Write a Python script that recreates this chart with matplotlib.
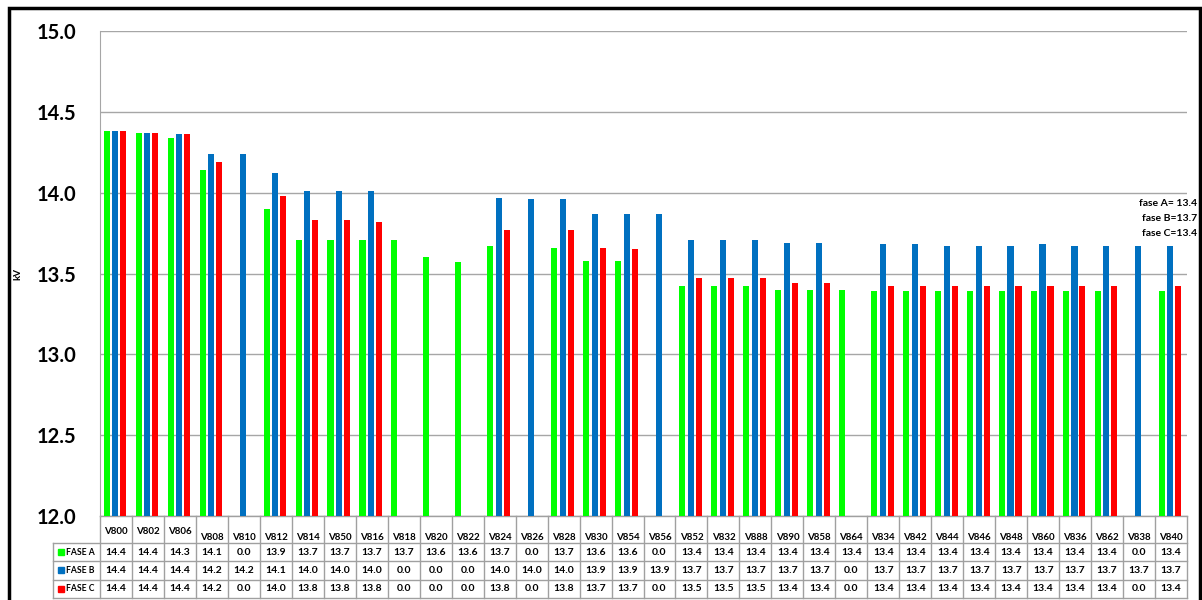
import numpy as np
import matplotlib
matplotlib.use('Agg')
import matplotlib.pyplot as plt
from matplotlib.patches import Rectangle
from matplotlib.transforms import blended_transform_factory

plt.rcParams['font.family'] = ['Lato', 'DejaVu Sans']

nodes = ['V800', 'V802', 'V806', 'V808', 'V810', 'V812', 'V814', 'V850', 'V816', 'V818',
         'V820', 'V822', 'V824', 'V826', 'V828', 'V830', 'V854', 'V856', 'V852', 'V832',
         'V888', 'V890', 'V858', 'V864', 'V834', 'V842', 'V844', 'V846', 'V848', 'V860',
         'V836', 'V862', 'V838', 'V840']
fase_a = [14.38, 14.37, 14.34, 14.14, 0.0, 13.90, 13.71, 13.71, 13.71, 13.71,
          13.60, 13.57, 13.67, 0.0, 13.66, 13.58, 13.58, 0.0, 13.42, 13.42,
          13.42, 13.40, 13.40, 13.40, 13.39, 13.39, 13.39, 13.39, 13.39, 13.39,
          13.39, 13.39, 0.0, 13.39]
fase_b = [14.38, 14.37, 14.36, 14.24, 14.24, 14.12, 14.01, 14.01, 14.01, 0.0,
          0.0, 0.0, 13.97, 13.96, 13.96, 13.87, 13.87, 13.87, 13.71, 13.71,
          13.71, 13.69, 13.69, 0.0, 13.68, 13.68, 13.67, 13.67, 13.67, 13.68,
          13.67, 13.67, 13.67, 13.67]
fase_c = [14.38, 14.37, 14.36, 14.19, 0.0, 13.98, 13.83, 13.83, 13.82, 0.0,
          0.0, 0.0, 13.77, 0.0, 13.77, 13.66, 13.65, 0.0, 13.47, 13.47,
          13.47, 13.44, 13.44, 0.0, 13.42, 13.42, 13.42, 13.42, 13.42, 13.42,
          13.42, 13.42, 0.0, 13.42]
series_names = ['FASE A', 'FASE B', 'FASE C']
colors = ['#00ff00', '#0070c0', '#ff0000']
notes = ['fase A= 13.4', 'fase B=13.7', 'fase C=13.4']

fig = plt.figure(figsize=(12.02, 6.0), dpi=100)
W, H = 1202, 600
ax = fig.add_axes([100 / W, 1 - 516 / H, 1087 / W, 485 / H])

x = np.arange(len(nodes))
for vals, off, c in zip([fase_a, fase_b, fase_c], [-0.29, -0.02, 0.23], colors):
    ax.bar(x + off, vals, width=0.19, color=c, zorder=3)

ax.set_xlim(-0.5, len(nodes) - 0.5)
ax.set_ylim(12.0, 15.0)
ax.set_yticks([12.0, 12.5, 13.0, 13.5, 14.0, 14.5, 15.0])
ax.set_yticklabels([f'{v:.1f}' for v in ax.get_yticks()], fontsize=14.5, fontweight='bold')
ax.tick_params(axis='y', length=0, pad=17)
ax.set_xticks([])
ax.grid(axis='y', color='#a6a6a6', lw=1.0, zorder=0)
for s in ['top', 'right', 'bottom']:
    ax.spines[s].set_visible(False)
ax.spines['left'].set_color('#a6a6a6')
ax.set_ylabel('kV', fontsize=7, fontweight='bold')
ax.yaxis.set_label_coords(-78 / 1087, 0.5)

# notes at right
for i, t in enumerate(notes):
    fig.text(1197 / W, 1 - (203 + i * 15.5) / H, t, ha='right', va='center',
             fontsize=7.5, fontweight='bold')

# data table below axes
tr = blended_transform_factory(ax.transData, ax.transAxes)
px = 1 / 485.0
y_top = 0.0
y_head = -27 * px
row_h = 18.3 * px
grid_c = '#a0a0a0'
y_bot = y_head - 3 * row_h
for k in range(len(nodes) + 1):
    ax.plot([k - 0.5, k - 0.5], [y_top, y_bot], color=grid_c, lw=1, transform=tr, clip_on=False)
x_lab = -0.5 - 47 / 31.97
ax.plot([x_lab, x_lab], [y_head, y_bot], color=grid_c, lw=1, transform=tr, clip_on=False)
ax.plot([-0.5, len(nodes) - 0.5], [y_top, y_top], color=grid_c, lw=1, transform=tr, clip_on=False)
for r in range(4):
    yy = y_head - r * row_h
    ax.plot([x_lab, len(nodes) - 0.5], [yy, yy], color=grid_c, lw=1, transform=tr, clip_on=False)

for k, n in enumerate(nodes):
    yy = -15 * px if k < 3 else -21 * px
    ax.text(k, yy, n, ha='center', va='center', fontsize=7, fontweight='bold', transform=tr)

for r, (vals, name, c) in enumerate(zip([fase_a, fase_b, fase_c], series_names, colors)):
    yc = y_head - (r + 0.5) * row_h
    for k, v in enumerate(vals):
        ax.text(k, yc, f'{v:.1f}', ha='center', va='center', fontsize=7.5,
                fontweight='bold', transform=tr)
    ax.add_patch(Rectangle((x_lab + 5 / 31.97, yc - 3 * px), 6 / 31.97, 6 * px, color=c,
                           transform=tr, clip_on=False))
    ax.text(x_lab + 13 / 31.97, yc, name, ha='left', va='center', fontsize=6.2,
            fontweight='bold', transform=tr)

# outer frame
fig.patches.append(Rectangle((8.5 / W, -0.02), 1191 / W, 1 - 7.5 / H + 0.02, fill=False,
                             edgecolor='black', lw=2.5, transform=fig.transFigure))

fig.savefig('out.png', dpi=100)
